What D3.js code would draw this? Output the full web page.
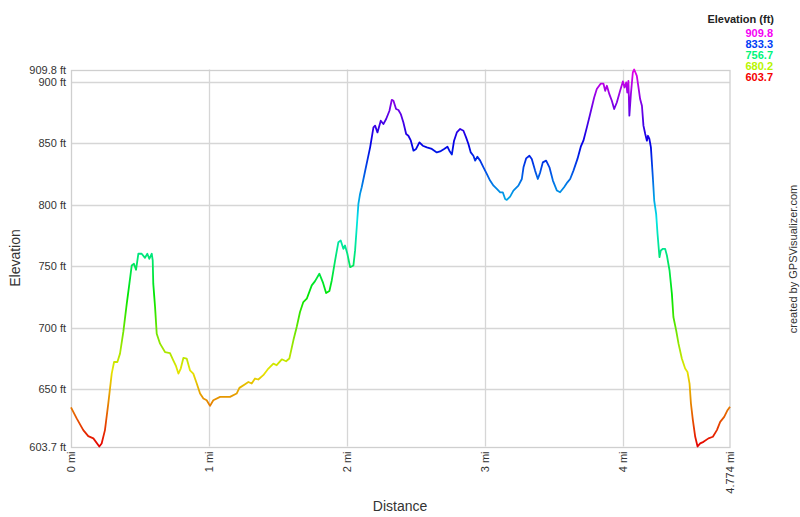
<!DOCTYPE html>
<html>
<head>
<meta charset="utf-8">
<script src="https://cdn.jsdelivr.net/npm/d3@7"></script>
<style>
  html, body { margin: 0; padding: 0; background: #fff; }
  svg { display: block; font-family: "Liberation Sans", Arial, sans-serif; }
</style>
</head>
<body>
<svg id="chart" width="800" height="517"></svg>
<script>
// ---- data ----
const distMi = [0,0.041,0.089,0.125,0.162,0.205,0.222,0.246,0.27,0.295,0.312,0.336,0.355,0.379,0.404,0.423,0.44,0.456,0.471,0.488,0.512,0.536,0.553,0.567,0.585,0.592,0.596,0.609,0.621,0.645,0.681,0.717,0.741,0.761,0.778,0.795,0.814,0.838,0.862,0.886,0.911,0.935,0.959,0.983,1.007,1.031,1.08,1.152,1.2,1.22,1.261,1.285,1.309,1.333,1.357,1.393,1.43,1.466,1.49,1.527,1.558,1.582,1.611,1.635,1.659,1.683,1.708,1.744,1.768,1.799,1.824,1.848,1.872,1.889,1.913,1.937,1.954,1.973,1.985,2.002,2.022,2.046,2.058,2.07,2.082,2.094,2.106,2.13,2.147,2.167,2.191,2.203,2.22,2.244,2.263,2.283,2.307,2.324,2.336,2.355,2.372,2.389,2.408,2.428,2.444,2.462,2.481,2.5,2.524,2.548,2.578,2.614,2.65,2.674,2.703,2.727,2.741,2.759,2.775,2.795,2.819,2.843,2.862,2.879,2.896,2.915,2.928,2.944,2.964,2.988,3.012,3.036,3.061,3.085,3.109,3.128,3.145,3.157,3.181,3.205,3.241,3.266,3.278,3.297,3.321,3.338,3.362,3.382,3.399,3.418,3.442,3.466,3.491,3.52,3.543,3.572,3.596,3.616,3.64,3.669,3.693,3.712,3.737,3.761,3.79,3.809,3.838,3.857,3.87,3.882,3.9,3.918,3.935,3.954,3.978,3.998,4.01,4.022,4.03,4.038,4.045,4.056,4.07,4.08,4.099,4.111,4.123,4.136,4.147,4.16,4.172,4.18,4.19,4.201,4.215,4.225,4.239,4.249,4.263,4.273,4.288,4.304,4.317,4.336,4.353,4.364,4.384,4.401,4.425,4.449,4.466,4.481,4.491,4.505,4.522,4.539,4.558,4.582,4.618,4.65,4.679,4.703,4.732,4.756,4.774];
const elevFt = [635.4,626.5,617,612.1,610.3,603.7,606.2,617,638.6,662.9,672.3,672.3,679.1,696.7,719.7,735.9,750.7,752.1,747.2,760.2,760.2,756.9,760.2,756.1,760.2,754.8,735.9,716.9,695.3,687.2,680.4,679.6,673.7,668.9,662.9,667,675.6,675.1,665.6,662.9,654.8,646.7,642.7,641.3,636.7,641.3,644,644,646.7,651.3,654.3,656.1,654.8,658.9,658.1,661.6,667,671,669.7,674.5,672.9,675.1,689.9,700.7,712.9,721,723.7,734.5,738,744,737.2,728.3,729.9,738.5,754.7,769.6,771,764.2,766.9,760.2,749.3,750.7,762.9,781.7,800.7,808.8,814.2,827,836,846.6,862.8,864.2,858.7,868.2,865.5,869.6,876.3,885.2,884.4,877.7,876.9,873.6,866.8,857.4,856,852,843.9,845.3,850.6,847.9,846.6,845.3,842.5,843.3,845.3,847.1,843.9,840.7,852,858.7,861.5,860.1,854.7,849.3,842.5,839.8,835.8,839,835.8,830.4,825,819.6,815.5,812.9,810.1,810.1,804.7,803.9,806.6,811.5,815.5,820.9,830.4,837.6,839.8,837.2,827.7,820.9,826.3,834.4,835.8,830.4,819.6,811.5,810.1,814.2,818.2,820.9,827.7,837.2,847.1,852,862.8,873.6,887.1,893.9,898.4,898.4,892.5,896.6,889.8,884.4,877.7,883,892.5,900.1,895.2,899.3,891.1,900.6,872.3,889.8,907.4,909.8,904.7,895.2,885.8,880.4,864.2,857.4,852,856,853.4,846.6,822.3,803.4,792.6,776.4,757.4,762.9,764.2,764.2,758.8,746.6,727.7,708.8,698,687.2,675.1,667,664.2,654.8,638.6,625.1,611.6,603.7,606.2,607.5,610.3,611.6,617,623.7,627.8,633.2,636];

const elevMin = 603.7, elevMax = 909.8, distMax = 4.774;
const yGridTicks = [650, 700, 750, 800, 850, 900];
const xTicks = [0, 1, 2, 3, 4, 4.774];
const legendValues = [909.8, 833.3, 756.7, 680.2, 603.7];

// ---- layout ----
const svg = d3.select("#chart");
const L = 71, R = 730, T = 69.5, B = 446.5;
const x = d3.scaleLinear().domain([0, distMax]).range([L, R]);
const y = d3.scaleLinear().domain([elevMin, elevMax]).range([B, T]);

const hueOf = v => 300 * (v - elevMin) / (elevMax - elevMin);
const lineColor = v => d3.hsl(hueOf(v), 1, 0.45).formatHex();
const legendColor = v => d3.hsl(hueOf(v), 1, 0.48).formatHex();

// gradient by elevation
const defs = svg.append("defs");
const grad = defs.append("linearGradient")
  .attr("id", "elevGrad").attr("gradientUnits", "userSpaceOnUse")
  .attr("x1", 0).attr("x2", 0).attr("y1", y(elevMin)).attr("y2", y(elevMax));
d3.range(0, 1.0001, 0.05).forEach(t => {
  const v = elevMin + t * (elevMax - elevMin);
  grad.append("stop").attr("offset", t).attr("stop-color", lineColor(v));
});

// grid
const grid = svg.append("g");
grid.selectAll(".hg").data(yGridTicks).join("line")
  .attr("x1", L).attr("x2", R)
  .attr("y1", d => Math.round(y(d)) + 0.5).attr("y2", d => Math.round(y(d)) + 0.5)
  .attr("stroke", "#d6d6d6").attr("stroke-width", 1.3);
grid.selectAll(".vg").data(xTicks.slice(1, 5)).join("line")
  .attr("y1", T).attr("y2", B)
  .attr("x1", d => Math.round(x(d)) + 0.5).attr("x2", d => Math.round(x(d)) + 0.5)
  .attr("stroke", "#d6d6d6").attr("stroke-width", 1.3);

// frame
svg.append("rect").attr("x", L + 0.5).attr("y", Math.round(T) + 0.5)
  .attr("width", R - L - 0.5).attr("height", Math.round(B) - Math.round(T))
  .attr("fill", "none").attr("stroke", "#cfcfcf").attr("stroke-width", 1.3);

// line
const pts = distMi.map((d, i) => [d, elevFt[i]]);
svg.append("path").datum(pts)
  .attr("d", d3.line().x(d => x(d[0])).y(d => y(d[1])))
  .attr("fill", "none").attr("stroke", "url(#elevGrad)")
  .attr("stroke-width", 1.8).attr("stroke-linejoin", "round");

// y labels
const yLabels = [elevMin].concat(yGridTicks, [elevMax]);
svg.append("g").selectAll("text").data(yLabels).join("text")
  .attr("x", 66).attr("y", d => y(d) + 4)
  .attr("text-anchor", "end").attr("font-size", 11).attr("fill", "#333")
  .text(d => (Number.isInteger(d) ? d : d.toFixed(1)) + " ft");

// x labels
svg.append("g").selectAll("text").data(xTicks).join("text")
  .attr("transform", d => `translate(${x(d) + 4},${B + 5}) rotate(-90)`)
  .attr("text-anchor", "end").attr("font-size", 11).attr("fill", "#333")
  .text(d => d + " mi");

// axis titles
svg.append("text").attr("x", 400).attr("y", 511).attr("text-anchor", "middle")
  .attr("font-size", 14).attr("fill", "#333").text("Distance");
svg.append("text").attr("transform", "translate(20,258) rotate(-90)")
  .attr("text-anchor", "middle").attr("font-size", 14).attr("fill", "#333").text("Elevation");

// credit
svg.append("text").attr("transform", "translate(797,259) rotate(-90)")
  .attr("text-anchor", "middle").attr("font-size", 11).attr("fill", "#333")
  .text("created by GPSVisualizer.com");

// legend
svg.append("text").attr("x", 774).attr("y", 23).attr("text-anchor", "end")
  .attr("font-size", 11).attr("font-weight", "bold").attr("fill", "#222")
  .text("Elevation (ft)");
svg.append("g").selectAll("text").data(legendValues).join("text")
  .attr("x", 773).attr("y", (d, i) => 36.5 + i * 11.2)
  .attr("text-anchor", "end").attr("font-size", 11).attr("font-weight", "bold")
  .attr("fill", d => legendColor(d))
  .text(d => d.toFixed(1));
</script>
</body>
</html>
